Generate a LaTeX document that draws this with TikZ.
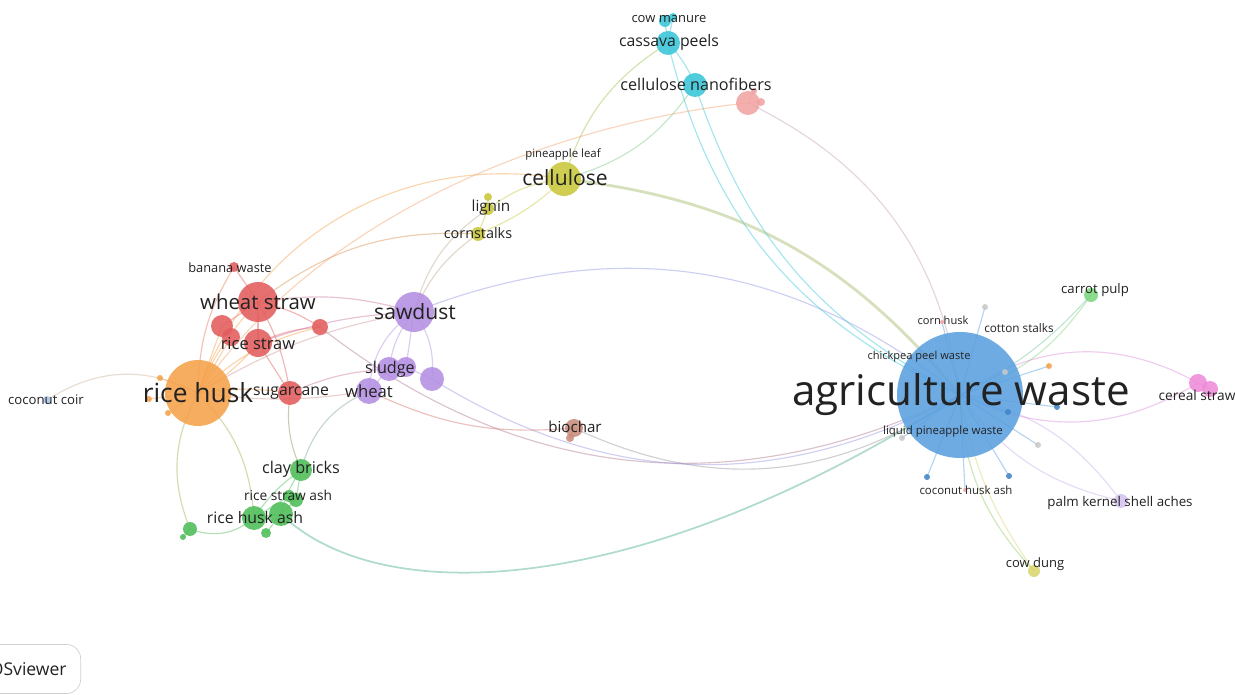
\documentclass[tikz,border=0pt]{standalone}
\usepackage{fontspec}
\setmainfont{Open Sans}
\usepackage{xcolor}
\usepackage{tikz}
\definecolor{awblue}{HTML}{5AA0E0}
\definecolor{awrim}{HTML}{3F86C8}
\definecolor{rhorange}{HTML}{F5A24B}
\definecolor{redc}{HTML}{E35D5D}
\definecolor{purp}{HTML}{B48FE3}
\definecolor{olive}{HTML}{C9C83C}
\definecolor{cyanc}{HTML}{38C6D9}
\definecolor{salmon}{HTML}{F2A3A3}
\definecolor{greenc}{HTML}{4DBE57}
\definecolor{brownc}{HTML}{C98B7B}
\definecolor{magc}{HTML}{EE8BD9}
\definecolor{lavc}{HTML}{D6C3F1}
\definecolor{dungc}{HTML}{D9D66E}
\definecolor{carrotc}{HTML}{7DD67F}
\definecolor{coirc}{HTML}{A9C6E8}
\definecolor{greyc}{HTML}{C9C9C9}
\definecolor{txt}{HTML}{222222}
\pgfdeclarelayer{bg}
\pgfsetlayers{bg,main}

\begin{document}
\begin{tikzpicture}[x=0.02cm, y=-0.02cm,
  bub/.style={circle, inner sep=0pt, minimum size=#1*0.4mm, fill opacity=0.88},
  lab/.style={font=\fontsize{#1}{#1}\selectfont, text=txt, inner sep=0pt},
  edge/.style={line width=0.65pt, draw opacity=0.45},
  btn/.style={draw=black!18, rounded corners=8pt, fill=white, text=txt,
              font=\fontsize{10}{10}\selectfont, minimum height=0.98cm, inner xsep=0.28cm}
]
  \useasboundingbox (0,0) rectangle (1235,695);

  \node[bub=63, fill=awblue]   (aw)   at (960,395)  {};
  \node[bub=33, fill=rhorange] (rh)   at (198,393)  {};
  \node[bub=3,  fill=rhorange] (o1)   at (160,378)  {};
  \node[bub=3,  fill=rhorange] (o2)   at (149,399)  {};
  \node[bub=3,  fill=rhorange] (o3)   at (168,413)  {};
  \node[bub=20, fill=redc]     (ws)   at (258,302)  {};
  \node[bub=14, fill=redc]     (rs)   at (258,343)  {};
  \node[bub=11, fill=redc]     (r1)   at (222,326)  {};
  \node[bub=9,  fill=redc]     (r2)   at (231,337)  {};
  \node[bub=8,  fill=redc]     (r3)   at (320,327)  {};
  \node[bub=12, fill=redc]     (sc)   at (290,393)  {};
  \node[bub=5,  fill=redc]     (bw)   at (234,267)  {};
  \node[bub=20, fill=purp]     (sd)   at (414,312)  {};
  \node[bub=12, fill=purp]     (sl)   at (389,369)  {};
  \node[bub=10, fill=purp]     (p1)   at (406,367)  {};
  \node[bub=13, fill=purp]     (wh)   at (369,391)  {};
  \node[bub=12, fill=purp]     (p2)   at (432,379)  {};
  \node[bub=17, fill=olive]    (ce)   at (564,179)  {};
  \node[bub=6,  fill=olive]    (lg)   at (488,209)  {};
  \node[bub=4,  fill=olive]    (lg2)  at (488,197)  {};
  \node[bub=7,  fill=olive]    (cs)   at (478,234)  {};
  \node[bub=12, fill=cyanc]    (cp)   at (668,43)   {};
  \node[bub=6,  fill=cyanc]    (cm)   at (665,21)   {};
  \node[bub=4,  fill=cyanc]    (cm2)  at (673,17)   {};
  \node[bub=12, fill=cyanc]    (cn)   at (695,85)   {};
  \node[bub=12, fill=salmon]   (pk)   at (748,103)  {};
  \node[bub=4,  fill=salmon]   (pk2)  at (761,102)  {};
  \node[bub=3,  fill=salmon]   (pk3)  at (754,91)   {};
  \node[bub=9,  fill=brownc]   (bc)   at (574,428)  {};
  \node[bub=4,  fill=brownc]   (bc2)  at (570,438)  {};
  \node[bub=11, fill=greenc]   (cb)   at (301,470)  {};
  \node[bub=7,  fill=greenc]   (ra)   at (296,500)  {};
  \node[bub=6,  fill=greenc]   (ra2)  at (289,496)  {};
  \node[bub=12, fill=greenc]   (ha)   at (254,518)  {};
  \node[bub=12, fill=greenc]   (ha2)  at (281,514)  {};
  \node[bub=5,  fill=greenc]   (ha3)  at (266,533)  {};
  \node[bub=7,  fill=greenc]   (g1)   at (190,529)  {};
  \node[bub=3,  fill=greenc]   (g2)   at (183,537)  {};
  \node[bub=4,  fill=coirc]    (cc)   at (47,400)   {};
  \node[bub=7,  fill=carrotc]  (cpu)  at (1091,295) {};
  \node[bub=9,  fill=magc]     (cst)  at (1198,383) {};
  \node[bub=8,  fill=magc]     (cst2) at (1210,389) {};
  \node[bub=7,  fill=lavc]     (pks)  at (1121,501) {};
  \node[bub=6,  fill=dungc]    (cd)   at (1034,571) {};
  \node[bub=3,  fill=greyc]    (g-a)  at (985,307)  {};
  \node[bub=3,  fill=greyc]    (g-b)  at (1038,445) {};
  \node[bub=3,  fill=greyc]    (g-c)  at (1005,372) {};
  \node[bub=3,  fill=greyc]    (g-d)  at (902,438)  {};
  \node[bub=3,  fill=rhorange] (o-a)  at (1049,366) {};
  \node[bub=3,  fill=awrim]    (b-a)  at (1057,407) {};
  \node[bub=3,  fill=awrim]    (b-b)  at (1008,412) {};
  \node[bub=3,  fill=awrim]    (b-c)  at (927,477)  {};
  \node[bub=3,  fill=awrim]    (b-d)  at (1009,476) {};
  \node[bub=2,  fill=salmon]   (p-a)  at (942,322)  {};
  \node[bub=2,  fill=salmon]   (p-b)  at (965,490)  {};

  \node[lab=24]   (aw-l)  at (961,395)  {agriculture waste};
  \node[lab=15]   (rh-l)  at (198,393)  {rice husk};
  \node[lab=11.6] (ws-l)  at (258,302)  {wheat straw};
  \node[lab=9.4]  (rs-l)  at (258,344)  {rice straw};
  \node[lab=9]    (sc-l)  at (291,393)  {sugarcane};
  \node[lab=7.3]  (bw-l)  at (230,268)  {banana waste};
  \node[lab=12]   (sd-l)  at (415,312)  {sawdust};
  \node[lab=9.2]  (sl-l)  at (390,369)  {sludge};
  \node[lab=9.5]  (wh-l)  at (369,391)  {wheat};
  \node[lab=12]   (ce-l)  at (565,178)  {cellulose};
  \node[lab=6.5]  (pl-l)  at (563,155)  {pineapple leaf};
  \node[lab=8.7]  (lg-l)  at (491,208)  {lignin};
  \node[lab=8.2]  (cs-l)  at (478,233)  {cornstalks};
  \node[lab=9]    (cp-l)  at (669,42)   {cassava peels};
  \node[lab=7.4]  (cm-l)  at (669,19)   {cow manure};
  \node[lab=9.2]  (cn-l)  at (696,84)   {cellulose nanofibers};
  \node[lab=8.6]  (bc-l)  at (575,427)  {biochar};
  \node[lab=9.2]  (cb-l)  at (301,469)  {clay bricks};
  \node[lab=7.8]  (ra-l)  at (288,495)  {rice straw ash};
  \node[lab=9]    (ha-l)  at (255,518)  {rice husk ash};
  \node[lab=7.5]  (cc-l)  at (46,400)   {coconut coir};
  \node[lab=7.5]  (cpu-l) at (1095,290) {carrot pulp};
  \node[lab=7.8]  (cst-l) at (1197,395) {cereal straw};
  \node[lab=7.6]  (pks-l) at (1120,503) {palm kernel shell aches};
  \node[lab=7.4]  (cd-l)  at (1035,564) {cow dung};
  \node[lab=6.3]  (ch-l)  at (943,320)  {corn husk};
  \node[lab=6.7]  (ct-l)  at (1019,328) {cotton stalks};
  \node[lab=6.3]  (cpw-l) at (919,357)  {chickpea peel waste};
  \node[lab=6.5]  (lpw-l) at (943,432)  {liquid pineapple waste};
  \node[lab=6.5]  (cha-l) at (966,490)  {coconut husk ash};

  \node[btn, anchor=east] (vos) at (81,669) {VOSviewer};

  \begin{pgfonlayer}{bg}
    \fill[white] (0,0) rectangle (1235,695);

    \draw[edge, draw=purp!60!awblue]  (sd.center)  to[bend left=30]  (aw.center);
    \draw[edge, draw=olive!70!awblue, line width=1.6pt] (ce.center) to[bend left=22] (aw.center);
    \draw[edge, draw=cyanc]           (cp.center)  to[bend right=26] (aw.center);
    \draw[edge, draw=cyanc]           (cn.center)  to[bend right=22] (aw.center);
    \draw[edge, draw=salmon!70!awblue] (pk.center) to[bend left=28]  (aw.center);
    \draw[edge, draw=redc!60!awblue]  (r3.center)  to[bend right=32] (aw.center);
    \draw[edge, draw=purp!70!awblue]  (p2.center)  to[bend right=30] (aw.center);
    \draw[edge, draw=brownc!60!awblue] (bc.center) to[bend right=30] (aw.center);
    \draw[edge, draw=greenc!60!awblue, line width=1pt]
      (ha2.center) .. controls (380,610) and (640,600) .. (aw.center);

    \draw[edge, draw=redc]            (ws.center)  -- (rs.center);
    \draw[edge, draw=redc]            (ws.center)  -- (r1.center);
    \draw[edge, draw=redc]            (ws.center)  to[bend left=10]  (sc.center);
    \draw[edge, draw=rhorange]        (rh.center)  to[bend left=10]  (ws.center);
    \draw[edge, draw=rhorange]        (rh.center)  to[bend right=10] (rs.center);
    \draw[edge, draw=rhorange]        (rh.center)  -- (r1.center);
    \draw[edge, draw=rhorange]        (rh.center)  -- (r2.center);
    \draw[edge, draw=rhorange]        (rh.center)  to[bend left=8]   (sc.center);
    \draw[edge, draw=rhorange]        (rh.center)  to[bend left=15]  (r3.center);
    \draw[edge, draw=redc]            (ws.center)  to[bend left=10]  (r3.center);
    \draw[edge, draw=redc]            (rs.center)  to[bend left=10]  (r3.center);
    \draw[edge, draw=redc]            (rs.center)  -- (sc.center);
    \draw[edge, draw=redc]            (bw.center)  -- (ws.center);
    \draw[edge, draw=redc!60!rhorange] (bw.center) to[bend right=15] (rh.center);
    \draw[edge, draw=redc!50!purp]    (ws.center)  to[bend left=12]  (sd.center);
    \draw[edge, draw=redc!50!purp]    (rs.center)  to[bend left=8]   (sd.center);
    \draw[edge, draw=rhorange!50!purp] (rh.center) to[bend left=10]  (sd.center);
    \draw[edge, draw=rhorange!50!purp] (rh.center) to[bend right=8]  (wh.center);
    \draw[edge, draw=redc!50!purp]    (sc.center)  to[bend left=10]  (sl.center);
    \draw[edge, draw=redc!50!brownc]  (wh.center)  to[bend right=15] (bc.center);
    \foreach \n in {o1,o2,o3}
      \draw[edge, draw=rhorange] (rh.center) -- (\n.center);

    \draw[edge, draw=purp]            (sd.center)  to[bend right=15] (sl.center);
    \draw[edge, draw=purp]            (sd.center)  to[bend right=25] (wh.center);
    \draw[edge, draw=purp]            (sd.center)  to[bend left=20]  (p2.center);
    \draw[edge, draw=purp]            (sd.center)  -- (p1.center);
    \draw[edge, draw=purp]            (wh.center)  -- (sl.center);
    \draw[edge, draw=purp]            (p1.center)  -- (p2.center);

    \draw[edge, draw=olive]           (lg.center)  to[bend left=15]  (ce.center);
    \draw[edge, draw=olive]           (cs.center)  to[bend right=10] (ce.center);
    \draw[edge, draw=olive]           (lg.center)  -- (cs.center);
    \draw[edge, draw=olive]           (lg2.center) -- (lg.center);
    \draw[edge, draw=olive!50!purp]   (cs.center)  to[bend right=15] (sd.center);
    \draw[edge, draw=olive!50!purp]   (lg.center)  to[bend right=20] (sd.center);
    \draw[edge, draw=olive!50!redc]   (cs.center)  to[bend right=20] (ws.center);
    \draw[edge, draw=olive!60!greenc] (ce.center)  to[bend left=20]  (cp.center);
    \draw[edge, draw=olive!50!cyanc]  (ce.center)  to[bend right=20] (cn.center);
    \draw[edge, draw=rhorange]        (rh.center)  to[bend left=40]  (ce.center);
    \draw[edge, draw=rhorange!60!salmon]
      (rh.center) .. controls (330,200) and (580,120) .. (pk.center);

    \draw[edge, draw=cyanc]           (cm.center)  -- (cp.center);
    \draw[edge, draw=cyanc]           (cm2.center) -- (cp.center);
    \draw[edge, draw=cyanc]           (cp.center)  to[bend left=10]  (cn.center);
    \draw[edge, draw=salmon]          (pk2.center) -- (pk.center);
    \draw[edge, draw=salmon]          (pk3.center) -- (pk.center);
    \draw[edge, draw=brownc]          (bc2.center) -- (bc.center);

    \draw[edge, draw=purp!50!greenc]  (wh.center)  to[bend right=25] (cb.center);
    \draw[edge, draw=redc!50!greenc]  (sc.center)  to[bend right=15] (cb.center);
    \draw[edge, draw=rhorange!50!greenc] (rh.center) to[bend left=20] (ha.center);
    \draw[edge, draw=rhorange!50!greenc] (rh.center) to[bend right=25] (g1.center);
    \draw[edge, draw=greenc]          (g1.center)  to[bend right=30] (ha.center);
    \draw[edge, draw=greenc]          (cb.center)  -- (ra.center);
    \draw[edge, draw=greenc]          (cb.center)  to[bend right=10] (ha2.center);
    \draw[edge, draw=greenc]          (cb.center)  to[bend right=10] (ha.center);
    \draw[edge, draw=greenc]          (ra.center)  -- (ha2.center);
    \draw[edge, draw=greenc]          (ra2.center) -- (ha.center);
    \draw[edge, draw=greenc]          (ha.center)  -- (ha2.center);
    \draw[edge, draw=greenc]          (ha3.center) -- (ha2.center);
    \draw[edge, draw=greenc]          (g2.center)  -- (g1.center);
    \draw[edge, draw=rhorange!50!coirc] (rh.center) to[bend right=30] (cc.center);

    \draw[edge, draw=carrotc!70!awblue] (cpu.center) to[bend left=10] (aw.center);
    \draw[edge, draw=carrotc]         (cpu.center) to[bend left=18]  (aw.center);
    \draw[edge, draw=magc!70!purp]    (cst.center) to[bend right=32] (aw.center);
    \draw[edge, draw=magc!70!purp]    (cst.center) to[bend left=28]  (aw.center);
    \draw[edge, draw=magc]            (cst2.center) -- (cst.center);
    \draw[edge, draw=lavc!60!purp]    (pks.center) to[bend right=20] (aw.center);
    \draw[edge, draw=lavc!60!purp]    (pks.center) to[bend left=20]  (aw.center);
    \draw[edge, draw=dungc]           (cd.center)  to[bend left=12]  (aw.center);
    \draw[edge, draw=dungc!50!greenc] (cd.center)  to[bend left=20]  (aw.center);
    \foreach \n in {g-a,g-b,g-c,g-d,o-a,b-a,b-b,b-c,b-d,p-a,p-b}
      \draw[edge, draw=awblue] (aw.center) -- (\n.center);
  \end{pgfonlayer}
\end{tikzpicture}
\end{document}
